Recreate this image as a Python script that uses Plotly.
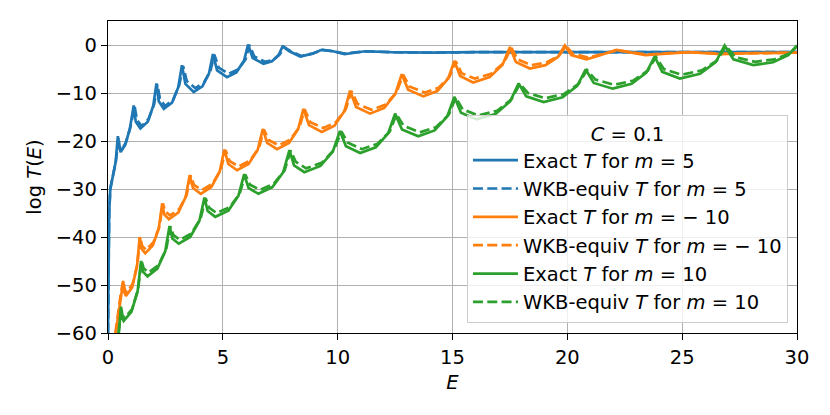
import plotly.graph_objects as go

# ---- data ----
# m = 5, exact
E_exact_m5 = [0, 0.02, 0.05, 0.1, 0.2, 0.33, 0.43, 0.47, 0.55, 0.75, 0.95, 1.12,
              1.21, 1.41, 1.73, 1.97, 2.11,
              2.21, 2.43, 2.79, 3.06, 3.22,
              3.37, 3.73, 4.11, 4.40, 4.57,
              4.75, 5.18, 5.59, 5.92, 6.10,
              6.30, 6.77, 7.14, 7.43, 7.60,
              7.90, 8.37, 8.90, 9.30, 9.80, 10.30, 11.20, 12.30, 14, 16, 20, 25, 30]
T_exact_m5 = [-60, -45, -35, -30, -27.5, -24.5, -19.0, -21, -22.3, -20.8, -17.5, -12.6,
              -16.0, -17.4, -16.0, -12.7, -8.0,
              -11.7, -13.3, -12.0, -8.8, -4.2,
              -8.1, -9.8, -8.6, -5.9, -1.9,
              -5.3, -6.7, -5.7, -3.3, 0.1,
              -2.7, -3.9, -3.4, -2.1, -0.3,
              -1.3, -2.4, -1.8, -1.0, -1.3, -1.9, -1.3, -1.5, -1.6, -1.5, -1.5, -1.5, -1.5]

# m = 5, WKB-equivalent
E_wkb_m5 = [0, 0.02, 0.05, 0.1, 0.2, 0.35, 0.46, 0.50, 0.58, 0.78, 0.98, 1.16,
            1.26, 1.46, 1.77, 2.01, 2.15,
            2.26, 2.48, 2.84, 3.10, 3.27,
            3.43, 3.80, 4.17, 4.46, 4.63,
            4.82, 5.25, 5.66, 5.99, 6.16,
            6.37, 6.84, 7.20, 7.49, 7.66,
            7.95, 8.42, 8.90, 9.35, 9.80, 10.30, 11.20, 12.30, 14, 16, 20, 25, 30]
T_wkb_m5 = [-60, -45, -35, -30, -27.5, -24, -19.2, -21, -22, -20.3, -17.0, -12.8,
            -15.6, -16.9, -15.4, -12.3, -8.2,
            -11.2, -12.7, -11.4, -8.4, -4.4,
            -7.5, -9.0, -7.9, -5.4, -2.0,
            -4.7, -6.0, -5.1, -3.0, 0.0,
            -2.4, -3.5, -3.1, -1.9, -0.4,
            -1.3, -2.3, -1.8, -1.0, -1.3, -1.8, -1.3, -1.5, -1.6, -1.5, -1.5, -1.5, -1.5]

# m = -10, exact
E_exact_mm10 = [0.34, 0.45, 0.56, 0.66,
                0.70, 0.78, 1.05, 1.26, 1.38,
                1.45, 1.62, 1.95, 2.21, 2.36,
                2.45, 2.65, 3.06, 3.38, 3.56,
                3.70, 4.04, 4.50, 4.86, 5.07,
                5.24, 5.62, 6.12, 6.52, 6.74,
                6.93, 7.36, 7.88, 8.28, 8.51,
                8.75, 9.31, 9.86, 10.29, 10.54,
                10.80, 11.41, 12.03, 12.51, 12.79,
                13.07, 13.73, 14.34, 14.81, 15.08,
                15.33, 15.90, 16.62, 17.18, 17.50,
                17.76, 18.37, 19.05, 19.59, 19.89,
                20.17, 20.83, 21.40, 22.13, 22.70, 23.40, 24.30, 25.30, 26.70, 28, 30]
T_exact_mm10 = [-60, -56, -52.5, -49.3,
                -51.4, -52.3, -50.5, -46.2, -40.0,
                -42.4, -43.4, -41.8, -38.2, -33.0,
                -35.3, -36.3, -34.9, -31.7, -27.1,
                -29.8, -31.0, -29.6, -26.4, -21.8,
                -24.8, -26.1, -24.8, -21.8, -17.5,
                -20.4, -21.7, -20.4, -17.5, -13.3,
                -16.7, -18.1, -16.8, -13.8, -9.5,
                -12.9, -14.3, -13.1, -10.2, -6.1,
                -9.3, -10.7, -9.6, -7.0, -3.3,
                -6.45, -7.8, -6.7, -4.1, -0.4,
                -3.55, -4.9, -4.2, -2.5, -0.1,
                -2.1, -3.0, -2.2, -1.0, -1.5, -2.1, -1.8, -1.5, -1.9, -1.7, -1.6]

# m = -10, WKB-equivalent
E_wkb_mm10 = [0.32, 0.43, 0.55, 0.67,
              0.72, 0.82, 1.08, 1.28, 1.40,
              1.48, 1.66, 1.98, 2.24, 2.39,
              2.49, 2.70, 3.10, 3.42, 3.60,
              3.75, 4.10, 4.55, 4.91, 5.12,
              5.30, 5.69, 6.18, 6.58, 6.79,
              6.99, 7.43, 7.94, 8.34, 8.56,
              8.81, 9.38, 9.92, 10.35, 10.60,
              10.87, 11.48, 12.09, 12.57, 12.85,
              13.14, 13.80, 14.40, 14.87, 15.14,
              15.40, 15.97, 16.68, 17.24, 17.56,
              17.83, 18.44, 19.11, 19.65, 19.95,
              20.23, 20.90, 21.45, 22.20, 22.80, 23.50, 24.40, 25.30, 26.70, 28, 30]
T_wkb_mm10 = [-60, -56, -52, -49.0,
              -50.8, -51.6, -49.7, -45.6, -40.0,
              -41.8, -42.7, -41.1, -37.8, -33.0,
              -34.7, -35.5, -34.2, -31.3, -27.2,
              -29.2, -30.2, -28.9, -26.0, -21.9,
              -24.2, -25.3, -24.1, -21.4, -17.6,
              -19.8, -20.9, -19.7, -17.1, -13.4,
              -16.1, -17.3, -16.1, -13.4, -9.6,
              -12.3, -13.5, -12.4, -9.8, -6.2,
              -8.7, -9.9, -8.9, -6.6, -3.4,
              -5.9, -7.0, -6.0, -3.7, -0.5,
              -3.0, -4.2, -3.6, -2.2, -0.2,
              -1.8, -2.6, -2.0, -1.1, -1.5, -2.0, -1.7, -1.5, -1.8, -1.7, -1.6]

# m = 10, exact
E_exact_m10 = [0.47, 0.52, 0.57,
               0.60, 0.68, 1.02, 1.29, 1.44,
               1.52, 1.72, 2.15, 2.49, 2.68,
               2.80, 3.08, 3.58, 3.98, 4.20,
               4.34, 4.67, 5.24, 5.68, 5.93,
               6.12, 6.55, 7.16, 7.63, 7.90,
               8.10, 8.55, 9.25, 9.79, 10.10,
               10.36, 10.98, 11.66, 12.20, 12.50,
               12.80, 13.51, 14.22, 14.77, 15.08,
               15.37, 16.05, 16.87, 17.51, 17.88,
               18.21, 18.97, 19.79, 20.43, 20.80,
               21.15, 21.98, 22.80, 23.44, 23.80,
               24.13, 24.90, 25.78, 26.46, 26.85,
               27.23, 28.10, 28.96, 29.62, 30]
T_exact_m10 = [-60, -57, -54.5,
               -56.6, -57.5, -55.6, -51.3, -45.0,
               -47.2, -48.2, -46.6, -43.0, -37.7,
               -40.3, -41.4, -40.0, -36.6, -31.8,
               -34.6, -35.8, -34.5, -31.4, -26.9,
               -29.8, -31.0, -29.6, -26.5, -21.9,
               -25.1, -26.5, -25.2, -22.2, -17.9,
               -21.1, -22.5, -21.3, -18.4, -14.3,
               -17.6, -19.0, -17.8, -14.9, -10.8,
               -14.1, -15.5, -14.4, -11.75, -8.0,
               -10.7, -11.9, -10.9, -8.5, -5.1,
               -7.9, -9.1, -8.1, -5.75, -2.4,
               -5.6, -7.0, -6.0, -3.55, -0.1,
               -3.0, -4.2, -3.6, -2.1, -0.1]

# m = 10, WKB-equivalent
E_wkb_m10 = [0.46, 0.52, 0.58,
             0.62, 0.72, 1.05, 1.31, 1.46,
             1.55, 1.77, 2.19, 2.53, 2.72,
             2.85, 3.13, 3.62, 4.03, 4.25,
             4.40, 4.73, 5.30, 5.73, 5.98,
             6.18, 6.62, 7.22, 7.69, 7.95,
             8.17, 8.62, 9.32, 9.85, 10.16,
             10.43, 11.05, 11.73, 12.27, 12.56,
             12.87, 13.58, 14.29, 14.84, 15.14,
             15.44, 16.12, 16.94, 17.57, 17.94,
             18.28, 19.04, 19.86, 20.49, 20.86,
             21.22, 22.05, 22.87, 23.50, 23.86,
             24.20, 24.97, 25.85, 26.52, 26.91,
             27.30, 28.17, 29.02, 29.66, 30]
T_wkb_m10 = [-60, -57, -54.6,
             -56.2, -56.9, -55.0, -50.9, -45.0,
             -46.5, -47.4, -45.9, -42.6, -37.8,
             -39.6, -40.6, -39.3, -36.2, -31.9,
             -33.9, -35.0, -33.8, -31.0, -27.0,
             -29.1, -30.2, -28.9, -26.1, -22.0,
             -24.3, -25.7, -24.5, -21.8, -18.0,
             -20.3, -21.7, -20.6, -18.0, -14.4,
             -16.8, -18.2, -17.1, -14.5, -10.9,
             -13.4, -14.7, -13.7, -11.3, -8.1,
             -10.0, -11.1, -10.2, -8.1, -5.2,
             -7.2, -8.3, -7.4, -5.35, -2.5,
             -5.0, -6.2, -5.3, -3.2, -0.2,
             -2.5, -3.5, -3.0, -1.8, -0.3]

x_ticks = [0, 5, 10, 15, 20, 25, 30]
y_ticks = [-60, -50, -40, -30, -20, -10, 0]

BLUE, ORANGE, GREEN = "#1f77b4", "#ff7f0e", "#2ca02c"
LW = 2.7
DASH = "10px,4.3px"
FS = 19.5

series = [
    (E_exact_m5, T_exact_m5, BLUE, "solid", "Exact <i>T</i> for <i>m</i> = 5"),
    (E_wkb_m5, T_wkb_m5, BLUE, DASH, "WKB-equiv <i>T</i> for <i>m</i> = 5"),
    (E_exact_mm10, T_exact_mm10, ORANGE, "solid", "Exact <i>T</i> for <i>m</i> = − 10"),
    (E_wkb_mm10, T_wkb_mm10, ORANGE, DASH, "WKB-equiv <i>T</i> for <i>m</i> = − 10"),
    (E_exact_m10, T_exact_m10, GREEN, "solid", "Exact <i>T</i> for <i>m</i> = 10"),
    (E_wkb_m10, T_wkb_m10, GREEN, DASH, "WKB-equiv <i>T</i> for <i>m</i> = 10"),
]

fig = go.Figure()
for xs, ys, col, dash, name in series:
    fig.add_trace(go.Scatter(x=xs, y=ys, mode="lines", name=name,
                             line=dict(color=col, width=LW, dash=dash)))

axis_common = dict(showline=True, mirror=True, linecolor="black", linewidth=1.4,
                   showgrid=True, gridcolor="#b0b0b0", gridwidth=1.4,
                   zeroline=False, ticks="outside", ticklen=6, tickwidth=1.4,
                   tickcolor="black", tickfont=dict(size=FS, color="black"),
                   automargin=False)

# the page body adds an 8px offset, so the figure is 8px smaller and margins shifted
fig.update_layout(
    width=822, height=407,
    margin=dict(l=99.5, r=32.5, t=12.7, b=82.3),
    paper_bgcolor="white", plot_bgcolor="white",
    font=dict(family="DejaVu Sans", size=FS, color="black"),
    xaxis=dict(range=[0, 30], tickvals=x_ticks,
               title=dict(text="<i>E</i>", standoff=7, font=dict(size=FS)),
               **axis_common),
    yaxis=dict(range=[-60, 5], tickvals=y_ticks,
               title=dict(text="log <i>T</i>(<i>E</i>)", standoff=8, font=dict(size=FS)),
               **axis_common),
    legend=dict(x=0.521, y=0.70, xanchor="left", yanchor="top",
                bgcolor="rgba(255,255,255,0.8)", bordercolor="#cccccc", borderwidth=1,
                font=dict(size=FS), itemwidth=45,
                title=dict(text="<i>C</i> = 0.1", side="top center", font=dict(size=FS))),
)

fig.write_html("out.html")
